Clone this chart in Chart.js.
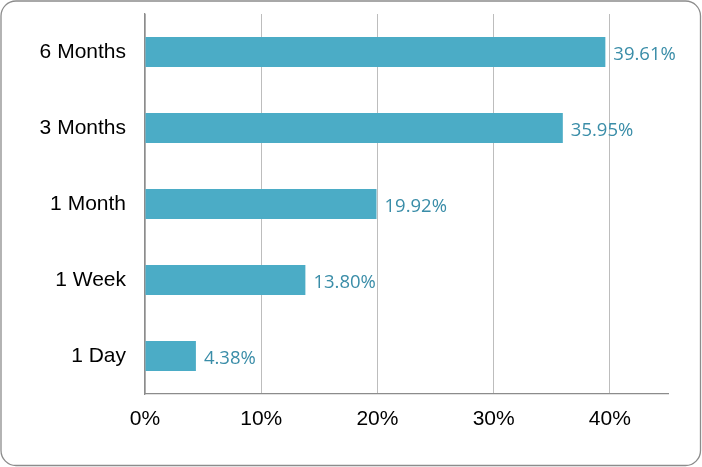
<!DOCTYPE html>
<html>
<head>
<meta charset="utf-8">
<script src="https://cdn.jsdelivr.net/npm/chart.js@4/dist/chart.umd.min.js"></script>
<style>
html,body{margin:0;padding:0;background:#fff;}
#wrap{width:702px;height:467px;position:relative;}
</style>
</head>
<body>
<div id="wrap"><canvas id="c" width="702" height="467"></canvas></div>
<script>
const categories = ["6 Months", "3 Months", "1 Month", "1 Week", "1 Day"];
const values = [39.61, 35.95, 19.92, 13.80, 4.38];
const valueLabels = ["39.61%", "35.95%", "19.92%", "13.80%", "4.38%"];

const borderPlugin = {
  id: 'frame',
  beforeDraw(chart) {
    const ctx = chart.ctx;
    ctx.save();
    ctx.fillStyle = '#fff';
    ctx.fillRect(0, 0, chart.width, chart.height);
    ctx.strokeStyle = '#8c8c8c';
    ctx.lineWidth = 1.3;
    ctx.beginPath();
    ctx.roundRect(1, 1, chart.width - 2.5, chart.height - 2.5, 15);
    ctx.stroke();
    ctx.restore();
  }
};

const labelPlugin = {
  id: 'valueLabels',
  afterDatasetsDraw(chart) {
    const ctx = chart.ctx;
    const meta = chart.getDatasetMeta(0);
    ctx.save();
    ctx.font = '18.5px "Open Sans"';
    ctx.fillStyle = '#3A8DA8';
    ctx.textBaseline = 'middle';
    ctx.textAlign = 'left';
    meta.data.forEach((bar, i) => {
      ctx.fillText(valueLabels[i], bar.x + 8, bar.y + 2.5);
    });
    ctx.restore();
  }
};

new Chart(document.getElementById('c'), {
  type: 'bar',
  data: {
    labels: categories,
    datasets: [{
      data: values,
      backgroundColor: '#4BACC6',
      borderWidth: 0,
      barPercentage: 0.395,
      categoryPercentage: 1.0
    }]
  },
  plugins: [borderPlugin, labelPlugin],
  options: {
    indexAxis: 'y',
    responsive: false,
    animation: false,
    events: [],
    layout: { padding: { top: 14, right: 34, left: 0, bottom: 0 } },
    plugins: { legend: { display: false }, tooltip: { enabled: false } },
    scales: {
      x: {
        min: 0, max: 45,
        afterBuildTicks(scale) { scale.ticks = scale.ticks.filter(t => t.value % 10 === 0); },
        afterFit(scale) { scale.height = 73; scale.paddingLeft = 0; scale.paddingRight = 0; },
        ticks: {
          stepSize: 10,
          padding: 13,
          color: '#000',
          font: { family: '"Liberation Sans", Arial', size: 21 },
          callback: v => v + '%'
        },
        grid: { color: '#bdbdbd', lineWidth: 1, drawTicks: false },
        border: { color: '#8c8c8c', width: 1.3 }
      },
      y: {
        afterFit(scale) { scale.width = 145; scale.paddingTop = 0; scale.paddingBottom = 0; },
        ticks: {
          padding: 19,
          color: '#000',
          font: { family: '"Liberation Sans", Arial', size: 21 }
        },
        grid: { display: false, drawTicks: false },
        border: { color: '#8c8c8c', width: 1.3 }
      }
    }
  }
});
</script>
</body>
</html>
